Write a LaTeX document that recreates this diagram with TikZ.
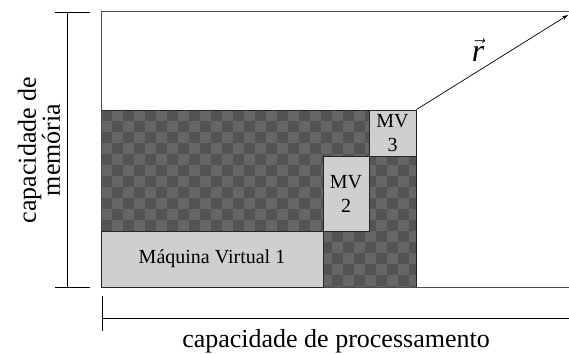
\documentclass[tikz,border=0pt]{standalone}
\usepackage{fontspec}
\setmainfont{Liberation Serif}
\usetikzlibrary{arrows.meta}
\begin{document}
\begin{tikzpicture}[x=1pt,y=-1pt,
  frameline/.style={draw=black!70, line width=1pt},
  dimline/.style={draw=black, line width=0.8pt},
  vmbox/.style={draw=black!85, line width=0.9pt, fill=black!19, inner sep=0pt, align=center,
    font=\fontsize{20}{24}\selectfont},
  axislabel/.style={font=\fontsize{26}{24}\selectfont, align=center, inner sep=0pt},
  chkdark/.style={fill=black!67},
  chklight/.style={fill=black!60}
]
\useasboundingbox (0,0) rectangle (569,353);
% checkerboard region
\begin{scope}
  \clip (101,110) rectangle (416,287);
  \fill[chklight] (101,110) rectangle (416,287);
  \foreach \i in {0,...,29}{
    \foreach \j in {0,...,16}{
      \pgfmathtruncatemacro\k{mod(\i+\j,2)}
      \ifnum\k=0
        \fill[chkdark] ({101+11*\i},{110+11*\j}) rectangle ++(11,11);
      \fi
    }
  }
\end{scope}
\draw[black!85, line width=0.9pt] (101,110) rectangle (416,287);
% outer frame
\draw[frameline] (569,12) -- (101,12) -- (101,287) -- (569,287);
% vm boxes
\node[vmbox, minimum width=222pt, minimum height=56pt] (mv1) at (212,259) {Máquina Virtual 1};
\node[vmbox, minimum width=46pt, minimum height=75pt] (mv2) at (346,193.5) {MV\\2};
\node[vmbox, minimum width=47pt, minimum height=46pt] (mv3) at (392.5,133) {MV\\3};
% vector r
\coordinate (rend) at (568,15);
\draw[-{Stealth[length=6pt,width=4pt]}, line width=0.7pt] (mv3.north east) -- (rend);
\node[font=\fontsize{32}{32}\selectfont] (rlabel) at (478,50) {$\vec{\textit{r}}$};
% memory dimension
\coordinate (mt) at (67,12);
\coordinate (mb) at (67,287);
\draw[dimline] (55,12) -- (90,12);
\draw[dimline] (55,287) -- (90,287);
\draw[dimline] (mt) -- (mb);
\node[axislabel, rotate=90] (memlabel) at (39,150) {capacidade de\\memória};
% processing dimension
\coordinate (pl) at (102,318);
\coordinate (pr) at (569,318);
\draw[dimline] (102,296) -- (102,331);
\draw[dimline] (pl) -- (pr);
\node[axislabel] (proclabel) at (336,341) {capacidade de processamento};
\end{tikzpicture}
\end{document}
